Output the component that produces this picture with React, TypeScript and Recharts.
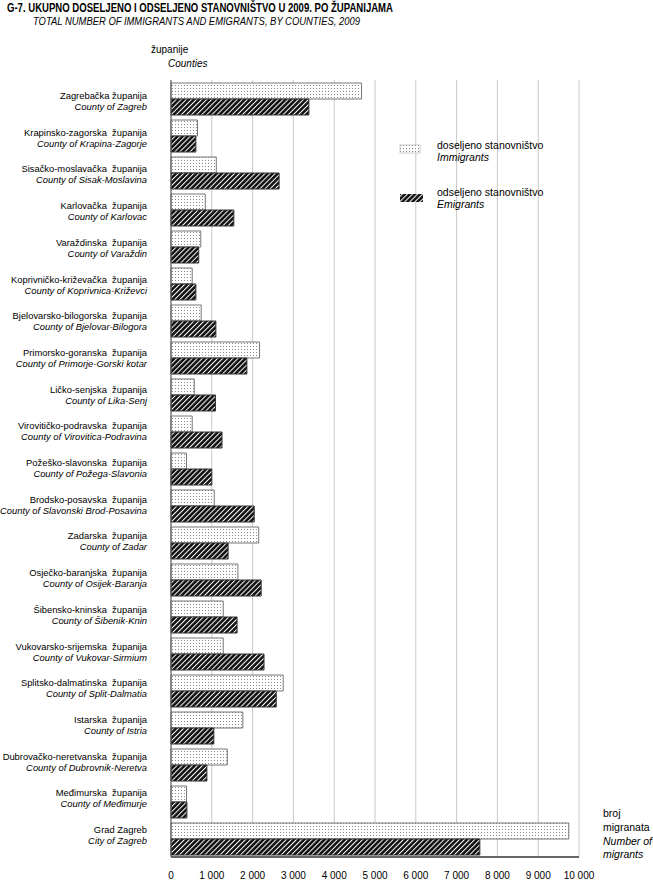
import React from "react";
import { BarChart, Bar, XAxis, YAxis, CartesianGrid } from "recharts";

const countiesHr = [
  "Zagrebačka županija",
  "Krapinsko-zagorska  županija",
  "Sisačko-moslavačka  županija",
  "Karlovačka  županija",
  "Varaždinska  županija",
  "Koprivničko-križevačka  županija",
  "Bjelovarsko-bilogorska  županija",
  "Primorsko-goranska  županija",
  "Ličko-senjska  županija",
  "Virovitičko-podravska  županija",
  "Požeško-slavonska  županija",
  "Brodsko-posavska  županija",
  "Zadarska  županija",
  "Osječko-baranjska  županija",
  "Šibensko-kninska  županija",
  "Vukovarsko-srijemska  županija",
  "Splitsko-dalmatinska  županija",
  "Istarska  županija",
  "Dubrovačko-neretvanska  županija",
  "Međimurska  županija",
  "Grad Zagreb",
];

const countiesEn = [
  "County of Zagreb",
  "County of Krapina-Zagorje",
  "County of Sisak-Moslavina",
  "County of Karlovac",
  "County of Varaždin",
  "County of Koprivnica-Križevci",
  "County of Bjelovar-Bilogora",
  "County of Primorje-Gorski kotar",
  "County of Lika-Senj",
  "County of Virovitica-Podravina",
  "County of Požega-Slavonia",
  "County of Slavonski Brod-Posavina",
  "County of Zadar",
  "County of Osijek-Baranja",
  "County of Šibenik-Knin",
  "County of Vukovar-Sirmium",
  "County of Split-Dalmatia",
  "County of Istria",
  "County of Dubrovnik-Neretva",
  "County of Međimurje",
  "City of Zagreb",
];

// doseljeno stanovništvo / Immigrants
const immigrants = [4670, 650, 1110, 840, 730, 520, 740, 2170, 570, 520, 380, 1060, 2150, 1640, 1280, 1280, 2750, 1760, 1380, 380, 9750];
// odseljeno stanovništvo / Emigrants
const emigrants = [3380, 610, 2650, 1540, 680, 610, 1100, 1860, 1090, 1250, 1000, 2040, 1400, 2210, 1620, 2280, 2580, 1050, 880, 390, 7570];

const xTicks = [0, 1000, 2000, 3000, 4000, 5000, 6000, 7000, 8000, 9000, 10000];

const data = countiesHr.map((name, i) => ({
  name,
  en: countiesEn[i],
  imm: immigrants[i],
  emi: emigrants[i],
}));

const FONT = "Arial, 'Liberation Sans', Helvetica, sans-serif";

const fmt = (v: number) => String(v).replace(/\B(?=(\d{3})+(?!\d))/g, " ");

function CountyTick(props: any) {
  const { x, y, payload } = props;
  const idx = countiesHr.indexOf(payload.value);
  // labels in the original sit a touch tighter than the bands
  const shift = 3 - idx * 0.3;
  return (
    <g>
      <text x={x - 16} y={y - 2.5 + shift} textAnchor="end" fontSize={9.4} fontFamily={FONT} fill="#000" style={{ whiteSpace: "pre" }}>
        {payload.value}
      </text>
      <text x={x - 16} y={y + 8.5 + shift} textAnchor="end" fontSize={9.4} fontFamily={FONT} fontStyle="italic" fill="#000">
        {countiesEn[idx]}
      </text>
    </g>
  );
}

function NumTick(props: any) {
  const { x, y, payload } = props;
  return (
    <text x={x} y={y} dy={14} textAnchor="middle" fontSize={10} fontFamily={FONT} fill="#000">
      {fmt(payload.value)}
    </text>
  );
}

function Patterns({ prefix }: { prefix: string }) {
  return (
    <defs>
      <pattern id={prefix + "dots"} width={3} height={3} patternUnits="userSpaceOnUse">
        <rect width={3} height={3} fill="#fff" />
        <rect x={1} y={1} width={1} height={1} fill="#8a8a8a" />
      </pattern>
      <pattern id={prefix + "hatch"} width={3.6} height={3.6} patternUnits="userSpaceOnUse" patternTransform="rotate(45)">
        <rect width={3.6} height={3.6} fill="#111" />
        <rect width={1.0} height={3.6} fill="#fff" />
      </pattern>
    </defs>
  );
}

export default function App() {
  return (
    <div style={{ position: "relative", width: 653, height: 882, background: "#fff" }}>
      <style>{"body{margin:0}"}</style>
      <BarChart
        width={653}
        height={882}
        data={data}
        layout="vertical"
        margin={{ top: 80, right: 74, bottom: 0, left: 0 }}
        barCategoryGap={3}
        barGap={0}
      >
        <Patterns prefix="c-" />
        <CartesianGrid horizontal={false} stroke="#c8c8c8" />
        <XAxis
          type="number"
          domain={[0, 10000]}
          ticks={xTicks}
          interval={0}
          height={25}
          tickLine={false}
          axisLine={{ stroke: "#666", strokeWidth: 2 }}
          tick={<NumTick />}
        />
        <YAxis
          type="category"
          dataKey="name"
          width={171}
          interval={0}
          tickLine={false}
          axisLine={{ stroke: "#555" }}
          tick={<CountyTick />}
        />
        <Bar dataKey="imm" fill="url(#c-dots)" stroke="#777" strokeWidth={1} isAnimationActive={false} />
        <Bar dataKey="emi" fill="url(#c-hatch)" stroke="#333" strokeWidth={1} isAnimationActive={false} />
      </BarChart>

      <svg width={653} height={882} style={{ position: "absolute", left: 0, top: 0, pointerEvents: "none" }}>
        <Patterns prefix="l-" />
        <text x={7} y={12} fontSize={12} fontWeight="bold" fontFamily={FONT} textLength={386} lengthAdjust="spacingAndGlyphs">
          G-7. UKUPNO DOSELJENO I ODSELJENO STANOVNIŠTVO U 2009. PO ŽUPANIJAMA
        </text>
        <text x={33} y={25} fontSize={11.5} fontStyle="italic" fontFamily={FONT} textLength={327} lengthAdjust="spacingAndGlyphs">
          TOTAL NUMBER OF IMMIGRANTS AND EMIGRANTS, BY COUNTIES, 2009
        </text>

        <text x={151} y={53} fontSize={10} fontFamily={FONT}>županije</text>
        <text x={168} y={67} fontSize={10} fontStyle="italic" fontFamily={FONT}>Counties</text>

        <rect x={400} y={145} width={20} height={8} fill="url(#l-dots)" stroke="#aaa" strokeWidth={0.6} />
        <text x={437} y={149} fontSize={10.5} fontFamily={FONT}>doseljeno stanovništvo</text>
        <text x={437} y={161} fontSize={10.5} fontStyle="italic" fontFamily={FONT}>Immigrants</text>

        <rect x={400} y={194} width={23} height={8} fill="url(#l-hatch)" />
        <text x={437} y={196} fontSize={10.5} fontFamily={FONT}>odseljeno stanovništvo</text>
        <text x={437} y={208} fontSize={10.5} fontStyle="italic" fontFamily={FONT}>Emigrants</text>

        <text x={603} y={817} fontSize={10.5} fontFamily={FONT}>broj</text>
        <text x={603} y={831} fontSize={10.5} fontFamily={FONT}>migranata</text>
        <text x={603} y={845} fontSize={10.5} fontStyle="italic" fontFamily={FONT}>Number of</text>
        <text x={603} y={858} fontSize={10.5} fontStyle="italic" fontFamily={FONT}>migrants</text>
      </svg>
    </div>
  );
}
